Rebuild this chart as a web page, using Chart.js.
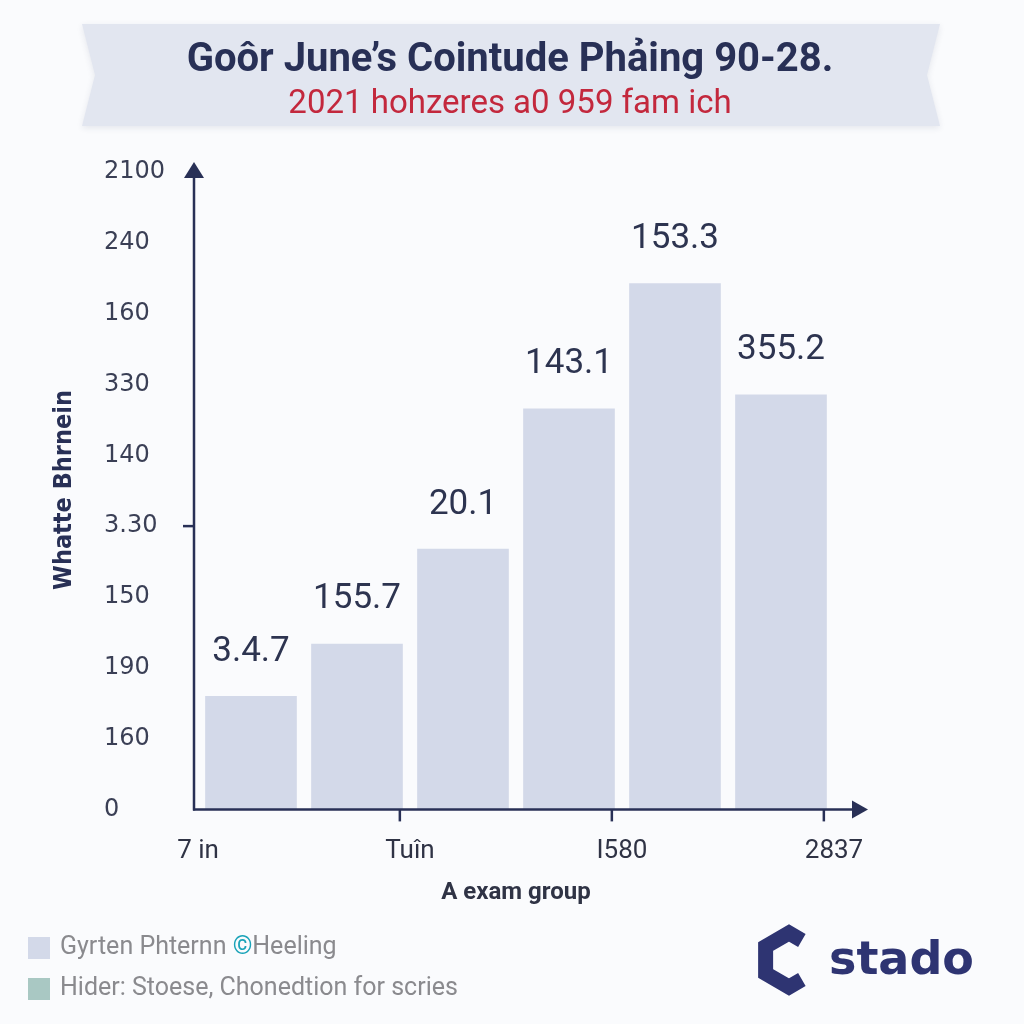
<!DOCTYPE html>
<html>
<head>
<meta charset="utf-8">
<script src="https://cdn.jsdelivr.net/npm/chart.js@4.4.1/dist/chart.umd.min.js"></script>
<style>
  html, body { margin: 0; padding: 0; background: #fafbfd; }
  #wrap { width: 1024px; height: 1024px; position: relative; }
</style>
</head>
<body>
<div id="wrap"><canvas id="c"></canvas></div>
<script>
// ---- data ----
const titleText = "Goôr June’s Cointude Phảing 90-28.";
const subtitleText = "2021 hohzeres a0 959 fam ich";
const yAxisTitle = "Whatte Bhrnein";
const xAxisTitle = "A exam group";
const categories = ["A", "B", "C", "D", "E", "F"];
const barValues = [1.60, 2.34, 3.68, 5.66, 7.43, 5.86];      // heights on the tick-index scale
const barLabels = ["3.4.7", "155.7", "20.1", "143.1", "153.3", "355.2"];
const yTickLabels = ["0", "160", "190", "150", "3.30", "140", "330", "160", "240", "2100"];
const xTickLabels = ["7 in", "Tuîn", "I580", "2837"];
const seriesNames = ["Gyrten Phternn ©Heeling", "Hider: Stoese, Chonedtion for scries"];
const seriesColors = ["#d3d9e9", "#a9c8c3"];
const markedYTick = 4; // the "3.30" tick has a small tick mark

const NAVY = "#283056";

const bannerPlugin = {
  id: 'banner',
  beforeDraw(chart) {
    const ctx = chart.ctx;
    ctx.save();
    ctx.fillStyle = "#fafbfd";
    ctx.fillRect(0, 0, chart.width, chart.height);
    const l = 82, r = 940, t = 24, b = 126, n = 13, m = (t + b) / 2;
    ctx.shadowColor = "rgba(40,50,90,0.10)";
    ctx.shadowBlur = 6;
    ctx.shadowOffsetY = 2;
    ctx.fillStyle = "#e2e6f0";
    ctx.lineJoin = "round";
    ctx.strokeStyle = "#e2e6f0";
    ctx.lineWidth = 4;
    ctx.beginPath();
    ctx.moveTo(l, t); ctx.lineTo(r, t); ctx.lineTo(r - n, m); ctx.lineTo(r, b);
    ctx.lineTo(l, b); ctx.lineTo(l + n, m); ctx.closePath();
    ctx.fill();
    ctx.restore();
  },
  afterDraw(chart) {
    const ctx = chart.ctx;
    const a = chart.chartArea;
    const x0 = a.left - 4, y0 = a.bottom;
    const meta = chart.getDatasetMeta(0);
    ctx.save();
    ctx.strokeStyle = NAVY; ctx.fillStyle = NAVY; ctx.lineWidth = 2.5;
    // y axis
    ctx.beginPath(); ctx.moveTo(x0, y0 + 1); ctx.lineTo(x0, a.top + 4); ctx.stroke();
    ctx.beginPath(); ctx.moveTo(x0, a.top - 10); ctx.lineTo(x0 - 10, a.top + 6); ctx.lineTo(x0 + 10, a.top + 6); ctx.closePath(); ctx.fill();
    // x axis
    ctx.beginPath(); ctx.moveTo(x0 - 1, y0); ctx.lineTo(a.right + 20, y0); ctx.stroke();
    ctx.beginPath(); ctx.moveTo(a.right + 34, y0); ctx.lineTo(a.right + 18, y0 - 9); ctx.lineTo(a.right + 18, y0 + 9); ctx.closePath(); ctx.fill();
    // small tick on y axis
    const ty = chart.scales.y.getPixelForValue(markedYTick);
    ctx.beginPath(); ctx.moveTo(x0 - 11, ty); ctx.lineTo(x0, ty); ctx.stroke();
    // small ticks under x axis at right edges of every second bar
    meta.data.forEach((bar, i) => {
      if (i % 2 === 1) {
        const tx = bar.x + bar.width / 2 - 3;
        ctx.beginPath(); ctx.moveTo(tx, y0); ctx.lineTo(tx, y0 + 12); ctx.stroke();
      }
    });

    // data labels
    ctx.font = "35px Roboto";
    ctx.fillStyle = "#2d3450";
    ctx.textAlign = "center"; ctx.textBaseline = "middle";
    meta.data.forEach((bar, i) => {
      ctx.fillText(barLabels[i], bar.x, bar.y - 44);
    });

    // y axis title
    ctx.save();
    ctx.translate(64, 490);
    ctx.rotate(-Math.PI / 2);
    ctx.font = "bold 25px 'DejaVu Sans Condensed', Roboto";
    ctx.fillStyle = NAVY;
    ctx.fillText(yAxisTitle, 0, 0);
    ctx.restore();

    // legend
    chart.data.datasets.forEach((ds, i) => {
      const cy = 948 + i * 41;
      ctx.fillStyle = ds.backgroundColor;
      ctx.fillRect(28, cy - 11, 22, 22);
      ctx.font = "25px Roboto";
      ctx.textAlign = "left"; ctx.textBaseline = "middle";
      let x = 60;
      const parts = ds.label.split("©");
      parts.forEach((p, k) => {
        if (k > 0) {
          ctx.fillStyle = "#1aa3b8";
          ctx.fillText("©", x, cy);
          x += ctx.measureText("©").width;
        }
        ctx.fillStyle = "#8a8a8e";
        ctx.fillText(p, x, cy);
        x += ctx.measureText(p).width;
      });
    });

    // logo
    const cx = 789, cyL = 960, R = 27;
    ctx.strokeStyle = "#2e3472"; ctx.lineWidth = 15; ctx.lineJoin = "miter";
    const pt = deg => [cx + R * Math.cos(deg * Math.PI / 180), cyL + R * Math.sin(deg * Math.PI / 180)];
    const lerp = (p, q, f) => [p[0] + (q[0] - p[0]) * f, p[1] + (q[1] - p[1]) * f];
    const s = lerp(pt(-30), pt(-90), 0.45), e = lerp(pt(30), pt(90), 0.45);
    ctx.beginPath();
    ctx.moveTo(...s);
    [-90, -150, 150, 90].forEach(d => ctx.lineTo(...pt(d)));
    ctx.lineTo(...e);
    ctx.stroke();
    ctx.fillStyle = "#2e3472";
    ctx.font = "bold 46px 'DejaVu Sans'";
    ctx.textAlign = "left"; ctx.textBaseline = "alphabetic";
    ctx.fillText("stado", 829, 974);
    ctx.restore();
  }
};

new Chart(document.getElementById('c'), {
  type: 'bar',
  data: {
    labels: categories,
    datasets: [
      { label: seriesNames[0], data: barValues, backgroundColor: seriesColors[0], xAxisID: 'x', yAxisID: 'y' },
      { label: seriesNames[1], data: categories.map(() => null), backgroundColor: seriesColors[1], xAxisID: 'x', yAxisID: 'y' }
    ]
  },
  options: {
    responsive: true,
    maintainAspectRatio: false,
    animation: false,
    grouped: false,
    categoryPercentage: 1.0,
    barPercentage: 0.865,
    layout: { padding: { left: 104, right: 108, top: 0, bottom: 116.6 } },
    plugins: {
      legend: { display: false },
      tooltip: { enabled: false },
      title: {
        display: true, text: titleText, color: NAVY,
        font: { family: "Roboto", size: 40, weight: 'bold', lineHeight: 1.2 },
        padding: { top: 37, bottom: 0 }
      },
      subtitle: {
        display: true, text: subtitleText, color: "#c3283d",
        font: { family: "Roboto", size: 33, weight: 'normal', lineHeight: 1.2 },
        padding: { top: 0.2, bottom: 47.2 }
      }
    },
    scales: {
      x: { type: 'category', display: false, offset: true },
      x2: {
        type: 'linear', position: 'bottom', min: -0.5, max: 5.5, offset: false,
        afterBuildTicks: sc => {
          const n = xTickLabels.length;
          sc.ticks = xTickLabels.map((_, i) => ({ value: sc.min + i * (sc.max - sc.min) / (n - 1) }));
        },
        afterFit: sc => { sc.height = 98; },
        ticks: {
          autoSkip: false, maxRotation: 0, padding: 26.6, color: "#2f3345",
          font: { family: "Roboto", size: 26, lineHeight: 1.2 },
          callback: (v, i) => xTickLabels[i]
        },
        grid: { display: false, drawTicks: false, offset: false },
        border: { display: false },
        title: {
          display: true, text: xAxisTitle, color: "#2f3345",
          font: { family: "Roboto", size: 24, weight: 'bold', lineHeight: 1.2 },
          padding: { top: 12.2, bottom: 0 }
        }
      },
      y: {
        min: 0, max: yTickLabels.length - 1,
        afterBuildTicks: sc => { sc.ticks = yTickLabels.map((_, i) => ({ value: i })); },
        afterFit: sc => { sc.width = 94; },
        ticks: {
          autoSkip: false, crossAlign: 'far', color: "#3a3f55",
          font: { family: "'DejaVu Sans'", size: 24 },
          callback: (v, i) => yTickLabels[i]
        },
        grid: { display: false, drawTicks: false },
        border: { display: false }
      },
      yR: {
        position: 'right', display: true,
        afterFit: sc => { sc.width = 82; },
        ticks: { display: false },
        grid: { display: false, drawTicks: false },
        border: { display: false }
      }
    }
  },
  plugins: [bannerPlugin]
});
</script>
</body>
</html>
